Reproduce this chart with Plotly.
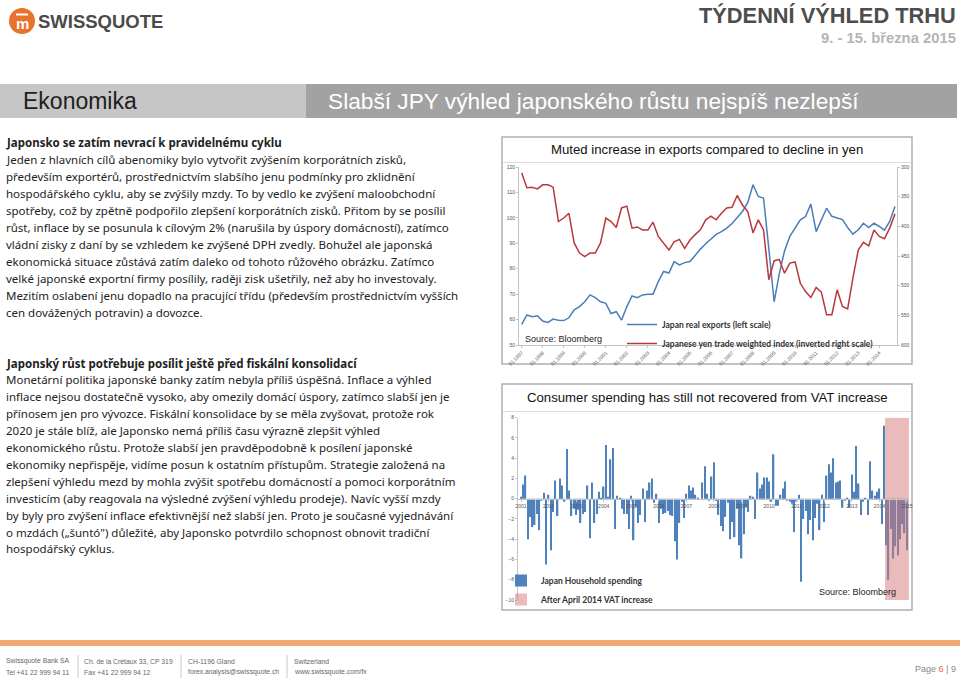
import plotly.graph_objects as go
import pandas as pd

W, H = 960, 681


def px(x):
    return x / W


def py(y):
    return 1 - y / H


# ---------------- Chart 1 data (quarterly, Q1 1997 .. Q4 2014) ----------------
exports_start = "1997-01-01"
japan_real_exports = [
    58.1, 61.8, 61.1, 61.5, 59.4, 58.9, 60.2, 59.7, 59.6, 60.7, 63.8, 65.1,
    67.0, 69.7, 68.6, 67.0, 66.4, 62.4, 63.1, 59.8, 65.1, 69.3, 68.6, 69.7,
    70.0, 70.0, 74.9, 78.9, 78.3, 82.8, 81.5, 82.4, 82.8, 85.4, 87.7, 89.8,
    91.8, 93.5, 94.6, 96.0, 97.8, 100.0, 102.5, 106.0, 113.0, 108.4, 107.8, 88.0,
    67.0, 78.0, 87.0, 92.7, 96.0, 99.2, 100.5, 105.4, 94.6, 99.2, 103.8, 100.6,
    100.0, 99.3, 96.2, 93.6, 95.3, 97.9, 96.2, 97.9, 96.6, 95.2, 98.6, 104.5,
]
yen_trade_weighted = [
    310, 335, 334, 337, 330, 330, 334, 392, 386, 378, 428, 445,
    451, 445, 445, 428, 386, 392, 402, 369, 366, 403, 401, 406,
    406, 393, 417, 428, 440, 426, 422, 437, 423, 414, 406, 389,
    383, 389, 378, 369, 368, 348, 364, 375, 411, 389, 406, 490,
    458, 456, 479, 462, 460, 496, 510, 520, 503, 511, 549, 549,
    507, 535, 539, 487, 440, 427, 433, 406, 417, 421, 403, 379,
]
left_ticks = [50, 60, 70, 80, 90, 100, 110, 120]
right_ticks = [300, 350, 400, 450, 500, 550, 600]

# ---------------- Chart 2 data (monthly, Jan 2001 .. Jan 2015) ----------------
spending_start = "2001-01-01"
household_spending = [
    0.2, 1.4, 2.3, -4.0, -1.8, -2.8, -2.6, -1.5, -3.1, -0.1, 0.6, -6.5,   # 2001
    0.4, -5.1, -1.3, 1.8, -1.7, 2.0, 1.3, -0.3, 4.9, 0.8, -1.7, -1.0,    # 2002
    -1.6, -1.1, -2.4, -1.5, -1.3, 1.3, -3.9, 1.6, -2.4, -1.5, 0.7, 0.1,  # 2003
    1.2, 5.3, 0.2, 3.9, 5.0, -3.0, 0.3, 0.1, -1.0, -1.5, -1.5, -3.0,     # 2004
    0.3, -4.1, -0.8, -2.4, -1.6, 1.0, -2.3, 0.8, 1.6, 2.0, -0.4, 0.5,    # 2005
    -2.4, -1.0, -1.5, -1.4, -1.2, -1.6, -1.7, -4.2, -6.0, -2.4, -0.3, -1.9,  # 2006
    0.5, 1.3, 0.8, 1.1, 0.4, 0.1, 0.0, 1.6, 3.2, 0.5, -0.1, 2.2,         # 2007
    3.6, -0.1, -1.6, -2.7, -3.2, -1.8, -0.4, -4.0, -2.3, -3.8, -1.0, -4.6,  # 2008
    -5.9, -3.5, -0.8, -1.3, 0.3, 0.2, -2.0, 2.6, 1.0, 1.4, 2.1, 2.1,     # 2009
    1.7, -0.3, 4.4, -0.7, -0.7, 0.4, 1.0, 1.7, -0.1, -0.3, -0.5, -3.3,   # 2010
    -0.3, 0.4, -8.2, -2.0, -1.2, -3.5, -2.1, -4.1, -1.9, -0.5, -3.1, 0.4,  # 2011
    -2.3, 2.3, 3.4, 2.6, 4.0, 1.6, 1.7, 1.8, -0.9, -0.1, 0.1, -0.9,      # 2012
    2.4, 0.7, 5.2, 1.5, -1.6, -0.3, 0.1, -1.6, 3.7, 0.8, 0.3, 0.7,       # 2013
    1.0, -2.5, 7.2, -4.6, -8.0, -3.0, -5.9, -4.7, -5.6, -4.0, -2.5, -3.4,  # 2014
    -5.1,                                                                # 2015
]
vat_increase_start = "2014-04-01"
spending_ticks = [8, 6, 4, 2, 0, -2, -4, -6, -8, -10]
spending_range = [-10, 8]

# ---------------- page text ----------------
section1 = [
    "Jeden z hlavních cílů abenomiky bylo vytvořit zvýšením korporátních zisků,",
    "především exportérů, prostřednictvím slabšího jenu podmínky pro zklidnění",
    "hospodářského cyklu, aby se zvýšily mzdy. To by vedlo ke zvýšení maloobchodní",
    "spotřeby, což by zpětně podpořilo zlepšení korporátních zisků. Přitom by se posílil",
    "růst, inflace by se posunula k cílovým 2% (narušila by úspory domácností), zatímco",
    "vládní zisky z daní by se vzhledem ke zvýšené DPH zvedly. Bohužel ale japonská",
    "ekonomická situace zůstává zatím daleko od tohoto růžového obrázku. Zatímco",
    "velké japonské exportní firmy posílily, raději zisk ušetřily, než aby ho investovaly.",
    "Mezitím oslabení jenu dopadlo na pracující třídu (především prostřednictvím vyšších",
    "cen dovážených potravin) a dovozce.",
]
section2 = [
    "Monetární politika japonské banky zatím nebyla příliš úspěšná. Inflace a výhled",
    "inflace nejsou dostatečně vysoko, aby omezily domácí úspory, zatímco slabší jen je",
    "přínosem jen pro vývozce. Fiskální konsolidace by se měla zvyšovat, protože rok",
    "2020 je stále blíž, ale Japonsko nemá příliš času výrazně zlepšit výhled",
    "ekonomického růstu. Protože slabší jen pravděpodobně k posílení japonské",
    "ekonomiky nepřispěje, vidíme posun k ostatním přístupům. Strategie založená na",
    "zlepšení výhledu mezd by mohla zvýšit spotřebu domácností a pomoci korporátním",
    "investicím (aby reagovala na výsledné zvýšení výhledu prodeje). Navíc vyšší mzdy",
    "by byly pro zvýšení inflace efektivnější než slabší jen. Proto je současné vyjednávání",
    "o mzdách („šuntó\") důležité, aby Japonsko potvrdilo schopnost obnovit tradiční",
    "hospodářský cyklus.",
]

BODY = "Noto Sans, DejaVu Sans, sans-serif"
NARROW = "Liberation Sans, Arial, sans-serif"
ARIAL = "Liberation Sans, Arial, sans-serif"
CAL = "Lato, Open Sans, sans-serif"

q_dates = pd.date_range(exports_start, periods=len(japan_real_exports), freq="QS")
m_dates = pd.date_range(spending_start, periods=len(household_spending), freq="MS")

fig = go.Figure()

fig.add_trace(go.Scatter(x=q_dates, y=japan_real_exports, mode="lines",
                         name="<b>Japan real exports (left scale)</b>",
                         line=dict(color="#4a7dba", width=1.5),
                         xaxis="x", yaxis="y", legend="legend"))
fig.add_trace(go.Scatter(x=q_dates, y=yen_trade_weighted, mode="lines",
                         name="<b>Japanese yen trade weighted index (inverted right scale)</b>",
                         line=dict(color="#b8383b", width=1.5),
                         xaxis="x", yaxis="y2", legend="legend"))

fig.add_trace(go.Bar(x=m_dates, y=household_spending, name="<b>Japan Household spending</b>",
                     marker=dict(color="#4f81bd", line=dict(width=0)),
                     xaxis="x3", yaxis="y3", legend="legend2"))
half_month = pd.Timedelta(days=15)
vat_x0 = pd.Timestamp(vat_increase_start) - half_month
vat_x1 = m_dates[-1] + pd.Timedelta(days=26)
vat_mid = vat_x0 + (vat_x1 - vat_x0) / 2
vat_width_ms = (vat_x1 - vat_x0).total_seconds() * 1000
fig.add_trace(go.Bar(x=[vat_mid], y=[spending_range[1] - spending_range[0]],
                     base=[spending_range[0]], width=[vat_width_ms],
                     name="<b>After April 2014 VAT increase</b>",
                     marker=dict(color="rgba(212,120,120,0.5)", line=dict(width=0)),
                     xaxis="x3", yaxis="y3", legend="legend2"))

ann = []


def txt(x, y, s, size, color="#222", family=BODY, xanchor="left", yanchor="middle", **kw):
    ann.append(dict(x=px(x), y=py(y), xref="paper", yref="paper", text=s, showarrow=False,
                    xanchor=xanchor, yanchor=yanchor, borderpad=0,
                    font=dict(size=size, color=color, family=family), **kw))


shapes = []


def rect(x0, y0, x1, y1, fill=None, line=None, lw=0, layer="below", type_="rect"):
    shapes.append(dict(type=type_, xref="paper", yref="paper", x0=px(x0), x1=px(x1),
                       y0=py(y0), y1=py(y1), fillcolor=fill,
                       line=dict(color=line or "rgba(0,0,0,0)", width=lw), layer=layer))


def hline(x0, x1, y, color, w):
    shapes.append(dict(type="line", xref="paper", yref="paper", x0=px(x0), x1=px(x1),
                       y0=py(y), y1=py(y), line=dict(color=color, width=w), layer="below"))


def vline(x, y0, y1, color, w):
    shapes.append(dict(type="line", xref="paper", yref="paper", x0=px(x), x1=px(x),
                       y0=py(y0), y1=py(y1), line=dict(color=color, width=w), layer="below"))


# ---- header ----
rect(9, 8, 35, 34, fill="#e8722e", type_="circle")
hline(16, 28, 14.5, "white", 2)
txt(22, 23, "<b>m</b>", 15, "white", ARIAL, xanchor="center")
txt(37, 21, "<b>SWISSQUOTE</b>", 18.5, "#4a4a4a", NARROW)
txt(957, 16, "<b>TÝDENNÍ VÝHLED TRHU</b>", 21.8, "#4d4d4d", NARROW, xanchor="right")
txt(957, 38, "<b>9. - 15. března 2015</b>", 14.8, "#b5b5b5", NARROW, xanchor="right")

rect(0, 84, 306, 118, fill="#c6c6c6")
rect(306, 84, 957, 118, fill="#a2a2a2")
txt(22, 101, "Ekonomika", 23, "#1e1e1e", NARROW)
txt(327, 101, "Slabší JPY výhled japonského růstu nejspíš nezlepší", 22.7, "white", NARROW)

# ---- body text ----
LS = 16.9
BS = 11.5
txt(5, 143, "<b>Japonsko se zatím nevrací k pravidelnému cyklu</b>", BS)
for i, line in enumerate(section1):
    txt(5, 143 + LS * (i + 1), line, BS)
txt(5, 363, "<b>Japonský růst potřebuje posílit ještě před fiskální konsolidací</b>", BS)
for i, line in enumerate(section2):
    txt(5, 363 + LS * (i + 1), line, BS)

# ---- chart 1 frame ----
rect(502, 137, 912, 364, fill="white", line="#b0b0b0", lw=1.5)
hline(503, 911, 162.5, "#dcdcdc", 1)
txt(707, 150, "Muted increase in exports compared to decline in yen", 13.2, "#111", ARIAL,
    xanchor="center")
txt(524, 339, "Source: Bloomberg", 9, "#222", ARIAL)

# ---- chart 2 frame ----
rect(502, 384, 912, 610, fill="white", line="#b0b0b0", lw=1.5)
hline(503, 911, 411.5, "#dcdcdc", 1)
txt(707, 397, "Consumer spending has still not recovered from VAT increase", 13.2, "#111", ARIAL,
    xanchor="center")
txt(818, 592, "Source: Bloomberg", 9, "#222", ARIAL)

# ---- footer ----
rect(0, 640, 960, 646, fill="#f3a771")
FC = "#666"
FS = 6.8
txt(5, 661, "Swissquote Bank SA", FS, FC, NARROW)
txt(5, 672, "Tel +41 22 999 94 11", FS, FC, NARROW)
vline(78, 655, 678, "#c8c8c8", 1)
txt(83, 661, "Ch. de la Crétaux 33, CP 319", FS, FC, NARROW)
txt(83, 672, "Fax +41 22 999 94 12", FS, FC, NARROW)
vline(181, 655, 678, "#c8c8c8", 1)
txt(187, 661, "CH-1196 Gland", FS, FC, NARROW)
txt(187, 672, "forex.analysis@swissquote.ch", FS, FC, NARROW)
vline(287, 655, 678, "#c8c8c8", 1)
txt(293, 661, "Switzerland", FS, FC, NARROW)
txt(293, 672, "www.swissquote.com/fx", FS, FC, NARROW)
txt(957, 669, "Page <span style='color:#e8722e'>6</span> | 9", 9, "#888", NARROW, xanchor="right")

AX = "#c4c4c4"
TF = dict(size=5, color="#555", family=ARIAL)

c1x = [px(519), px(897)]
c1y = [py(345), py(167)]
c2x = [px(518), px(909)]
c2y = [py(600), py(417.7)]
zero_pos = c2y[0] + (0 - spending_range[0]) / (spending_range[1] - spending_range[0]) * (c2y[1] - c2y[0])

fig.update_layout(
    width=W, height=H, autosize=False,
    margin=dict(l=0, r=0, t=0, b=0, autoexpand=False),
    paper_bgcolor="white", plot_bgcolor="rgba(0,0,0,0)",
    barmode="overlay", bargap=0.35,
    annotations=ann, shapes=shapes,
    xaxis=dict(domain=c1x, anchor="y", type="date", automargin=False,
               range=["1996-11-15", "2014-11-05"], dtick="M12", tick0="1997-01-01",
               tickformat="%m.%Y", tickangle=-45, tickfont=TF, showgrid=False,
               showline=True, linecolor=AX, linewidth=1, ticks="outside", ticklen=2,
               tickcolor=AX, zeroline=False),
    yaxis=dict(domain=c1y, anchor="x", range=[left_ticks[0], left_ticks[-1]], automargin=False,
               tickvals=left_ticks, tickfont=TF, showgrid=False, zeroline=False,
               showline=True, linecolor=AX, linewidth=1, ticks="outside", ticklen=2,
               tickcolor=AX),
    yaxis2=dict(overlaying="y", side="right", anchor="x", automargin=False,
                range=[right_ticks[-1], right_ticks[0]], tickvals=right_ticks, tickfont=TF,
                showgrid=False, zeroline=False, showline=True, linecolor=AX, linewidth=1,
                ticks="outside", ticklen=2, tickcolor=AX),
    xaxis3=dict(domain=c2x, anchor="free", position=zero_pos, type="date", automargin=False,
                range=["2000-11-22", "2015-01-28"], dtick="M12", tick0="2001-01-01",
                tickformat="%Y", tickangle=0, tickfont=TF, showgrid=False,
                showline=True, linecolor=AX, linewidth=1, ticks="outside", ticklen=2,
                tickcolor=AX, zeroline=False),
    yaxis3=dict(domain=c2y, anchor="x3", range=spending_range, tickvals=spending_ticks,
                tickfont=TF, showgrid=False, zeroline=False, showline=True, linecolor=AX,
                linewidth=1, ticks="outside", ticklen=2, tickcolor=AX, automargin=False),
    legend=dict(x=px(622), y=py(310), xanchor="left", yanchor="top",
                bgcolor="rgba(0,0,0,0)", font=dict(size=8.5, family=CAL, color="#333"),
                itemwidth=30, tracegroupgap=0),
    legend2=dict(x=px(501), y=py(566), xanchor="left", yanchor="top",
                 bgcolor="rgba(0,0,0,0)", font=dict(size=8.5, family=CAL, color="#333"),
                 itemwidth=30, tracegroupgap=0),
)

fig.write_html(
    "out.html",
    config={"displayModeBar": False},
    post_script=("document.documentElement.style.margin='0';"
                 "document.documentElement.style.padding='0';"
                 "document.documentElement.style.overflow='hidden';"
                 "document.body.style.margin='0';document.body.style.padding='0';"
                 "document.body.style.overflow='hidden';"),
)
